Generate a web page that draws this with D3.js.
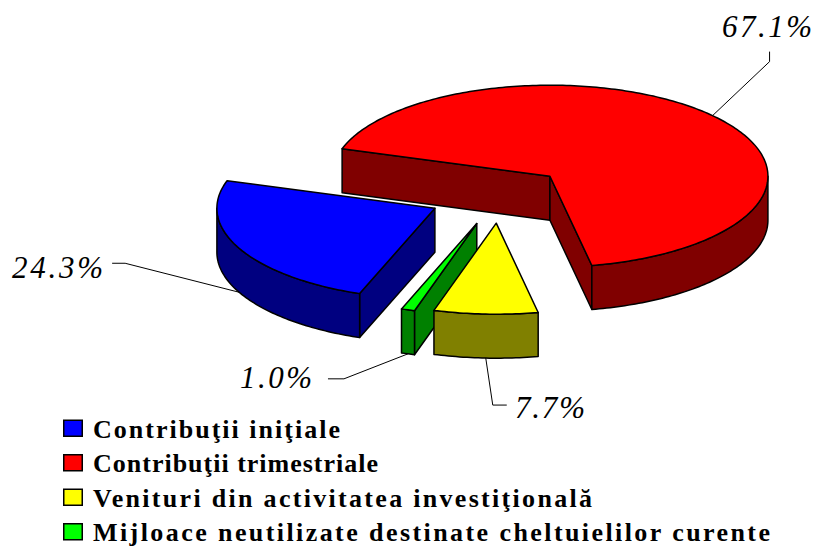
<!DOCTYPE html>
<html><head><meta charset="utf-8">
<script src="https://cdn.jsdelivr.net/npm/d3@7/dist/d3.min.js"></script>
<style>html,body{margin:0;padding:0;background:#fff}svg{display:block}</style>
</head><body><svg id="c" width="814" height="547"></svg>
<script>
const categories = ["Contribuţii iniţiale","Contribuţii trimestriale","Venituri din activitatea investiţională","Mijloace neutilizate destinate cheltuielilor curente"];
const values = [24.3,67.1,7.7,1.0];
const valueLabels = ["24.3%","67.1%","7.7%","1.0%"];
const topColors = ["#0000ff","#ff0000","#ffff00","#00ff00"];
const sideColors = ["#000080","#800000","#808000","#008000"];
const explode = [0.33,0.31,0.31,0.33];

const W=814,H=547, cx=499.5, cy=195, rx=218, ry=91, depth=44;
const svg=d3.select("#c");
const sx=d3.scaleLinear().domain([-1,1]).range([-rx,rx]);
const sy=d3.scaleLinear().domain([-1,1]).range([ry,-ry]);
const TAU=Math.PI*2, deg=Math.PI/180;
const pie=d3.pie().sort(null).value(d=>d).startAngle(200.2*deg).endAngle(200.2*deg+TAU);
const arcs=pie(values).map((a,i)=>{
  const mid=(a.startAngle+a.endAngle)/2;
  return {...a,i,mid,
    ox:cx+sx(Math.sin(mid)*explode[i]),
    oy:cy+sy(Math.cos(mid)*explode[i])};
});
const pt=(s,ang,dz=0)=>[s.ox+sx(Math.sin(ang)),s.oy+sy(Math.cos(ang))+dz];
const line=d3.line();
function arcPts(s,a0,a1,dz=0){
  const n=Math.max(2,Math.ceil(Math.abs(a1-a0)/(1*deg)));
  return d3.range(n+1).map(k=>pt(s,a0+(a1-a0)*k/n,dz));
}
function face(pts,fill){
  svg.append("path").attr("d",line(pts)+"Z").attr("fill",fill)
    .attr("stroke","#000").attr("stroke-width",1.5).attr("stroke-linejoin","round");
}
// back to front: red, blue, green, yellow
[1,0,3,2].forEach(i=>{
  const s=arcs[i], a0=s.startAngle, a1=s.endAngle, c=sideColors[i];
  const apex=[s.ox,s.oy], apexB=[s.ox,s.oy+depth];
  const wrap=a=>((a%TAU)+TAU)%TAU;
  if(wrap(a0)>Math.PI){const p=pt(s,a0);face([apex,p,[p[0],p[1]+depth],apexB],c);}
  if(wrap(a1)<Math.PI){const p=pt(s,a1);face([apex,p,[p[0],p[1]+depth],apexB],c);}
  // outer wall: visible part in lower half (90..270 deg)
  for(let k=-1;k<=2;k++){
    const lo=Math.max(a0,Math.PI/2+k*TAU), hi=Math.min(a1,1.5*Math.PI+k*TAU);
    if(hi>lo){
      const up=arcPts(s,lo,hi), dn=arcPts(s,hi,lo,depth);
      face(up.concat(dn),c);
    }
  }
  face([apex].concat(arcPts(s,a0,a1)),topColors[i]);
});

// leaders and value labels
const labelLayout=[
  {dz:depth,elbow:[-114,-29],end:[-127,-29],tx:12,ty:277.5,w:91},
  {dz:0,elbow:[57,-54],end:[57,-64],tx:722,ty:37,w:90},
  {dz:depth,elbow:[7,47],end:[21,47],tx:515,ty:418,w:70},
  {dz:depth,elbow:[-64,25],end:[-80,25],tx:240,ty:388,w:72}
];
arcs.forEach((s,i)=>{
  const L=labelLayout[i], p=pt(s,s.mid,L.dz);
  svg.append("path").attr("fill","none").attr("stroke","#000").attr("stroke-width",1)
    .attr("d",line([p,[p[0]+L.elbow[0],p[1]+L.elbow[1]],[p[0]+L.end[0],p[1]+L.end[1]]]));
  const t=svg.append("text").attr("x",L.tx).attr("y",L.ty).text(valueLabels[i])
    .attr("font-family","'Liberation Serif'").attr("font-style","italic")
    .attr("font-size",31).attr("fill","#000");
  const w=t.node().getComputedTextLength();
  t.attr("letter-spacing",(L.w-w)/(valueLabels[i].length-1));
});

// legend
const legendY=d3.scalePoint().domain(d3.range(categories.length)).range([437.5,541]);
const targetW=[247,285,499,677];
categories.forEach((cat,i)=>{
  const y=legendY(i);
  svg.append("rect").attr("x",63.75).attr("y",y-17.25).attr("width",18.5).attr("height",16)
    .attr("fill",topColors[i]).attr("stroke","#000").attr("stroke-width",1.5);
  const t=svg.append("text").attr("x",93).attr("y",y).text(cat)
    .attr("font-family","'Liberation Serif'").attr("font-weight","bold")
    .attr("font-size",26).attr("fill","#000");
  const w=t.node().getComputedTextLength();
  t.attr("letter-spacing",(targetW[i]-w)/(cat.length-1));
});
</script></body></html>
